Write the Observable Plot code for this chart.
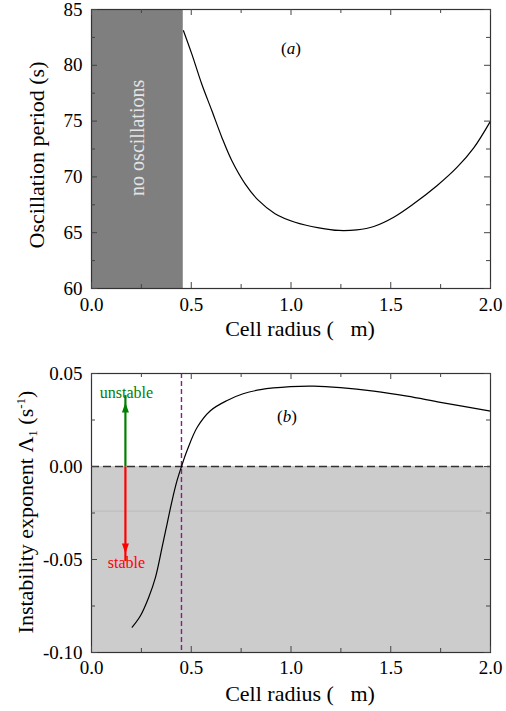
<!DOCTYPE html>
<html><head><meta charset="utf-8">
<script src="https://cdn.jsdelivr.net/npm/d3@7"></script>
<script src="https://cdn.jsdelivr.net/npm/@observablehq/plot@0.6"></script>
<style>
body{margin:0;background:#fff;font-family:"Liberation Serif","DejaVu Serif",serif;}
svg{display:block;}
svg text, svg tspan{font-family:"Liberation Serif","DejaVu Serif",serif !important;}
</style></head><body><div id="chart"></div>
<script>
// Panel (a): oscillation period vs cell radius
const radiusA = [0.461,0.503,0.553,0.603,0.653,0.703,0.77,0.837,0.92,1.02,1.14,1.24,1.33,1.415,1.515,1.615,1.733,1.833,1.916,2.0];
const periodA = [83.1,81.0,78.3,75.95,73.56,71.47,69.38,67.89,66.7,65.94,65.44,65.2,65.26,65.56,66.39,67.59,69.23,70.87,72.6,75.0];
// Panel (b): instability exponent vs cell radius
const radiusB = [0.204,0.246,0.287,0.321,0.354,0.379,0.404,0.429,0.451,0.479,0.53,0.596,0.68,0.76,0.847,0.997,1.114,1.248,1.415,1.582,1.749,2.0];
const exponentB = [-0.0864,-0.0801,-0.0703,-0.0595,-0.0434,-0.0308,-0.0183,-0.0075,0,0.0086,0.0211,0.0300,0.0355,0.0391,0.0413,0.0429,0.0432,0.0424,0.0405,0.0378,0.0345,0.0298];

const xTicks = [0, 0.5, 1, 1.5, 2];
const xMinor = [0.25, 0.75, 1.25, 1.75];
const yTicksA = [60, 65, 70, 75, 80, 85];
const yMinorA = [62.5, 67.5, 72.5, 77.5, 82.5];
const yTicksB = [-0.1, -0.05, 0, 0.05];
const yMinorB = [-0.075, -0.025, 0.025];

const noOscEnd = 0.46;      // end of "no oscillations" band
const threshold = 0.451;    // zero crossing of exponent
const faintLineY = -0.024;
const arrowX = 0.17;
const unstableTip = 0.0344;
const stableTip = -0.0468;

const FONT = '"Liberation Serif","DejaVu Serif",serif';
const TICK = "#444";
const PW = 399, PH = 279; // plot-area size in px (for inward tick lengths)

function frameAxes(xT, xM, yT, yM, yFmt, xPad, yPad) {
  const out = [];
  for (const [ticks, len] of [[xT, 6], [xM, 4]]) {
    out.push(Plot.tickX(ticks, {x: d => d, insetTop: PH - len, stroke: TICK}));
    out.push(Plot.tickX(ticks, {x: d => d, insetBottom: PH - len, stroke: TICK}));
  }
  for (const [ticks, len] of [[yT, 6], [yM, 4]]) {
    out.push(Plot.tickY(ticks, {y: d => d, insetRight: PW - len, stroke: TICK}));
    out.push(Plot.tickY(ticks, {y: d => d, insetLeft: PW - len, stroke: TICK}));
  }
  out.push(Plot.axisX(xT, {anchor: "bottom", tickSize: 0, tickPadding: xPad, tickFormat: d => d.toFixed(1), label: null, fill: "black"}));
  out.push(Plot.axisY(yT, {anchor: "left", tickSize: 0, tickPadding: yPad, tickFormat: yFmt, label: null, fill: "black"}));
  return out;
}

const arrowHead = {draw(ctx, size) { ctx.moveTo(0, 0); ctx.lineTo(3.5, 10); ctx.lineTo(-3.5, 10); ctx.closePath(); }};

const dataA = radiusA.map((r, i) => ({r, p: periodA[i]}));
const dataB = radiusB.map((r, i) => ({r, e: exponentB[i]}));

const panelA = Plot.plot({
  width: 506, height: 340,
  marginLeft: 91, marginRight: 16, marginTop: 9, marginBottom: 52,
  x: {domain: [0, 2]}, y: {domain: [60, 85]},
  style: {fontFamily: FONT, fontSize: "19px", background: "white", overflow: "visible"},
  marks: [
    Plot.rect([{x1: 0, x2: noOscEnd, y1: 60, y2: 85}], {x1: "x1", x2: "x2", y1: "y1", y2: "y2", fill: "#7f7f7f"}),
    Plot.text(["no oscillations"], {x: noOscEnd / 2, y: 73.5, rotate: -90, fill: "#e4e4e4", fontSize: 20}),
    Plot.line(dataA, {x: "r", y: "p", stroke: "black", strokeWidth: 1.2, curve: "catmull-rom"}),
    Plot.text(["(a)"], {x: 1.0, y: 81.5, fontSize: 17, fill: "black"}),
    Plot.frame({stroke: "#333", strokeWidth: 1.2}),
    ...frameAxes(xTicks, xMinor, yTicksA, yMinorA, d => String(d), 9, 9)
  ]
});

const panelB = Plot.plot({
  width: 506, height: 371,
  marginLeft: 91, marginRight: 16, marginTop: 33, marginBottom: 59,
  x: {domain: [0, 2]}, y: {domain: [-0.1, 0.05]},
  style: {fontFamily: FONT, fontSize: "19px", background: "white", overflow: "visible"},
  marks: [
    Plot.rect([{x1: 0, x2: 2, y1: -0.1, y2: 0}], {x1: "x1", x2: "x2", y1: "y1", y2: "y2", fill: "#cccccc"}),
    Plot.ruleY([faintLineY], {x1: 0, x2: 1.96, stroke: "#b8b8b8", strokeWidth: 0.8}),
    Plot.ruleY([0], {stroke: "#333", strokeDasharray: "8,4", strokeWidth: 1.5}),
    Plot.ruleX([threshold], {stroke: "#8b1a89", strokeDasharray: "5,3", strokeWidth: 1.4}),
    Plot.line(dataB, {x: "r", y: "e", stroke: "black", strokeWidth: 1.2, curve: "catmull-rom"}),
    Plot.link([{x: arrowX, y1: 0, y2: unstableTip + 0.004}], {x1: "x", x2: "x", y1: "y1", y2: "y2", stroke: "#008000", strokeWidth: 2.2}),
    Plot.link([{x: arrowX, y1: 0, y2: stableTip - 0.004}], {x1: "x", x2: "x", y1: "y1", y2: "y2", stroke: "#ff0000", strokeWidth: 2.2}),
    Plot.dot([{x: arrowX, y: unstableTip}], {x: "x", y: "y", symbol: arrowHead, fill: "#008000", stroke: "none"}),
    Plot.dot([{x: arrowX, y: stableTip}], {x: "x", y: "y", symbol: arrowHead, rotate: 180, fill: "#ff0000", stroke: "none"}),
    Plot.text(["unstable"], {x: arrowX + 0.005, y: 0.0394, fill: "#008000", fontSize: 16}),
    Plot.text(["stable"], {x: arrowX + 0.005, y: -0.0518, fill: "#ff0000", fontSize: 16}),
    Plot.text(["(b)"], {x: 0.98, y: 0.0271, fontSize: 17, fill: "black"}),
    Plot.frame({stroke: "#333", strokeWidth: 1.2}),
    ...frameAxes(xTicks, xMinor, yTicksB, yMinorB, d => d.toFixed(2), 8, 9)
  ]
});

function italicize(svg, label, letter) {
  d3.select(svg).selectAll("text").filter(function() { return this.textContent === label; })
    .each(function() {
      const t = d3.select(this);
      t.text(null);
      t.append("tspan").text("(");
      t.append("tspan").attr("font-style", "italic").text(letter);
      t.append("tspan").text(")");
    });
}
italicize(panelA, "(a)", "a");
italicize(panelB, "(b)", "b");

// Axis titles
const ts = d3.select(panelA);
ts.append("text").attr("x", 300).attr("y", 336).attr("text-anchor", "middle")
  .attr("font-size", 22).text("Cell radius (\u00a0\u00a0\u00a0m)");
ts.append("text").attr("transform", "translate(44,155) rotate(-90)").attr("text-anchor", "middle")
  .attr("font-size", 22).text("Oscillation period (s)");

const bs = d3.select(panelB);
bs.append("text").attr("x", 300).attr("y", 361).attr("text-anchor", "middle")
  .attr("font-size", 22).text("Cell radius (\u00a0\u00a0\u00a0m)");
const yl = bs.append("text").attr("transform", "translate(33,172) rotate(-90)").attr("text-anchor", "middle")
  .attr("font-size", 22);
yl.append("tspan").text("Instability exponent \u039b");
yl.append("tspan").attr("font-size", 13).attr("dy", 4).text("1");
yl.append("tspan").attr("dy", -4).text(" (s");
yl.append("tspan").attr("font-size", 13).attr("dy", -8).text("-1");
yl.append("tspan").attr("dy", 8).text(")");

const root = document.getElementById("chart");
root.appendChild(panelA);
root.appendChild(panelB);
</script></body></html>
